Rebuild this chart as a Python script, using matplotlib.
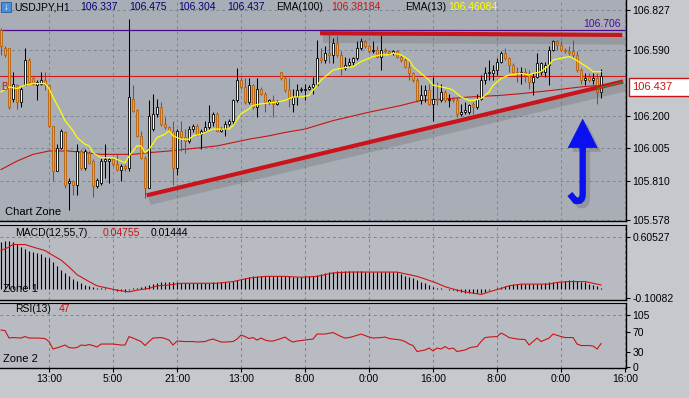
import matplotlib
matplotlib.use("Agg")
import matplotlib.pyplot as plt
import matplotlib.patheffects as pe
from matplotlib.path import Path
from matplotlib.patches import PathPatch, Polygon, Rectangle
import numpy as np

plt.rcParams['font.family'] = ['Liberation Sans', 'DejaVu Sans']

# ---------------- DATA ----------------
symbol = "USDJPY,H1"
ohlc_header = ["106.337", "106.475", "106.304", "106.437"]
ema100_label, ema100_value = "EMA(100)", "106.38184"
ema13_label, ema13_value = "EMA(13)", "106.46084"
macd_label, macd_sig_txt, macd_main_txt = "MACD(12,55,7)", "0.04755", "0.01444"
rsi_label, rsi_value_txt = "RSI(13)", "47"

opens = [106.71,106.60,106.60,106.30,106.38,106.28,106.38,106.53,106.42,106.38,
         106.39,106.41,106.38,106.14,105.87,106.01,106.10,105.80,105.81,105.79,
         105.99,105.89,105.98,105.93,105.78,105.80,105.93,105.93,105.94,105.91,
         105.88,105.90,105.89,106.30,106.23,106.08,105.95,105.77,106.12,106.21,
         106.25,106.15,106.13,106.11,105.89,106.11,106.07,106.05,106.12,106.14,
         106.09,106.11,106.13,106.16,106.21,106.11,106.12,106.15,106.17,106.29,
         106.41,106.37,106.28,106.38,106.25,106.36,106.33,106.28,106.29,106.27,
         106.46,106.42,106.35,106.27,106.31,106.35,106.35,106.36,106.37,106.38,
         106.54,106.53,106.57,106.56,106.63,106.56,106.48,106.50,106.52,106.54,
         106.60,106.64,106.61,106.58,106.59,106.55,106.59,106.58,106.57,106.58,
         106.55,106.53,106.49,106.45,106.41,106.29,106.32,106.35,106.27,106.30,
         106.29,106.34,106.29,106.30,106.29,106.21,106.22,106.22,106.27,106.25,
         106.30,106.41,106.45,106.45,106.47,106.52,106.57,106.54,106.50,106.46,
         106.45,106.46,106.44,106.40,106.43,106.46,106.46,106.50,106.59,106.64,
         106.62,106.59,106.58,106.58,106.56,106.47,106.41,106.43,106.41,106.42,
         106.337]
highs = [106.72,106.61,106.60,106.46,106.39,106.37,106.60,106.54,106.43,106.41,
         106.46,106.46,106.39,106.14,106.03,106.12,106.11,105.83,105.82,106.03,
         106.00,106.00,105.99,105.94,105.83,105.95,106.03,105.95,105.95,105.97,
         105.91,105.91,106.77,106.38,106.24,106.11,105.96,106.29,106.33,106.30,
         106.28,106.19,106.14,106.17,106.12,106.17,106.12,106.14,106.15,106.15,
         106.12,106.17,106.26,106.22,106.22,106.13,106.17,106.18,106.30,106.48,
         106.43,106.42,106.42,106.39,106.42,106.37,106.34,106.30,106.32,106.29,
         106.46,106.43,106.42,106.36,106.39,106.37,106.39,106.38,106.43,106.65,
         106.60,106.61,106.69,106.66,106.67,106.58,106.55,106.54,106.55,106.64,
         106.66,106.65,106.62,106.64,106.61,106.68,106.60,106.59,106.59,106.59,
         106.56,106.54,106.53,106.46,106.42,106.38,106.38,106.39,106.43,106.40,
         106.39,106.35,106.33,106.31,106.31,106.27,106.28,106.27,106.28,106.33,
         106.44,106.49,106.53,106.50,106.54,106.58,106.60,106.55,106.51,106.49,
         106.49,106.48,106.47,106.45,106.57,106.52,106.52,106.61,106.65,106.65,
         106.64,106.60,106.61,106.65,106.58,106.48,106.45,106.45,106.45,106.45,
         106.475]
lows = [106.56,106.55,106.24,106.28,106.24,106.25,106.38,106.39,106.38,106.29,
        106.38,106.35,106.13,105.81,105.87,106.00,105.77,105.64,105.73,105.73,
        105.88,105.88,105.91,105.72,105.77,105.79,105.83,105.80,105.90,105.87,
        105.81,105.87,105.87,106.22,106.07,105.94,105.71,105.77,106.11,106.19,
        106.14,106.12,106.10,105.79,105.85,105.99,105.98,106.04,106.10,106.08,
        106.00,106.10,106.12,106.14,106.10,106.10,106.08,106.14,106.15,106.28,
        106.36,106.27,106.27,106.24,106.19,106.32,106.22,106.27,106.19,106.26,
        106.41,106.34,106.25,106.22,106.26,106.34,106.29,106.35,106.33,106.38,
        106.51,106.51,106.51,106.51,106.55,106.44,106.47,106.49,106.50,106.53,
        106.59,106.60,106.57,106.57,106.54,106.47,106.57,106.56,106.56,106.54,
        106.52,106.48,106.41,106.40,106.28,106.27,106.28,106.26,106.17,106.26,
        106.28,106.28,106.25,106.28,106.19,106.20,106.21,106.21,106.21,106.24,
        106.29,106.39,106.41,106.41,106.44,106.51,106.53,106.46,106.45,106.40,
        106.39,106.40,106.36,106.32,106.42,106.44,106.43,106.38,106.58,106.59,
        106.58,106.57,106.56,106.54,106.46,106.39,106.38,106.40,106.39,106.27,
        106.304]
closes = [106.61,106.56,106.25,106.39,106.28,106.36,106.53,106.40,106.39,106.40,
          106.41,106.38,106.14,105.87,106.01,106.11,105.79,105.81,105.79,105.99,
          105.89,105.99,105.92,105.78,105.82,105.93,105.94,105.94,105.91,105.88,
          105.90,105.89,106.31,106.23,106.08,105.95,105.77,106.20,106.21,106.25,
          106.15,106.13,106.11,105.89,106.11,106.07,106.05,106.12,106.14,106.09,
          106.11,106.13,106.16,106.21,106.11,106.12,106.15,106.17,106.29,106.41,
          106.37,106.28,106.38,106.25,106.36,106.33,106.28,106.29,106.27,106.28,
          106.42,106.35,106.30,106.31,106.35,106.36,106.36,106.37,106.39,106.54,
          106.53,106.57,106.56,106.63,106.56,106.48,106.50,106.52,106.54,106.60,
          106.64,106.61,106.58,106.59,106.55,106.59,106.58,106.57,106.58,106.55,
          106.53,106.49,106.45,106.41,106.29,106.32,106.35,106.27,106.30,106.29,
          106.34,106.29,106.30,106.29,106.21,106.22,106.23,106.26,106.25,106.30,
          106.41,106.45,106.46,106.47,106.52,106.57,106.54,106.50,106.46,106.45,
          106.46,106.44,106.40,106.43,106.51,106.51,106.50,106.59,106.64,106.62,
          106.59,106.58,106.57,106.56,106.47,106.41,106.42,106.41,106.42,106.34,
          106.437]

ema100_bar = [0,4,8,12,17,21,25,29,33,37,42,46,50,54,58,62,67,71,76,83,92,100,105,112,117,125,130,138,145,150]
ema100_val = [105.88,105.93,105.97,105.99,105.99,105.98,105.97,105.97,105.97,105.98,105.99,106.00,106.01,106.02,
              106.04,106.06,106.08,106.10,106.12,106.17,106.22,106.26,106.29,106.30,106.31,106.32,106.33,106.35,106.37,106.38]

ema13_bar = [0,2,4,6,8,11,12,13,15,16,18,19,21,22,23,25,28,29,31,32,34,35,36,37,39,41,42,43,45,47,48,50,52,53,57,58,
             60,62,63,65,69,71,73,75,77,78,80,82,83,85,88,90,92,93,95,97,98,100,102,103,105,107,108,110,112,113,115,
             117,118,120,122,123,125,127,130,132,133,135,137,138,140,142,143,145,147,148,150]
ema13_val = [106.34,106.37,106.36,106.38,106.39,106.39,106.36,106.31,106.22,106.17,106.11,106.07,106.03,106.02,105.98,
             105.95,105.95,105.94,105.92,105.96,106.02,106.02,105.98,106.00,106.07,106.09,106.11,106.08,106.06,106.06,
             106.08,106.09,106.11,106.12,106.12,106.14,106.21,106.24,106.26,106.27,106.28,106.29,106.31,106.31,106.32,
             106.35,106.41,106.45,106.47,106.48,106.49,106.52,106.54,106.55,106.56,106.56,106.57,106.56,106.53,106.49,
             106.45,106.41,106.38,106.37,106.36,106.35,106.31,106.29,106.29,106.30,106.34,106.38,106.42,106.44,106.45,
             106.44,106.45,106.46,106.50,106.53,106.54,106.55,106.54,106.51,106.48,106.46,106.46]

macd_hist = [0.55,0.56,0.56,0.55,0.53,0.49,0.47,0.45,0.43,0.42,0.41,0.38,0.36,0.32,0.27,0.22,0.19,0.15,0.12,0.10,
             0.07,0.05,0.04,0.03,0.02,0.01,0.01,0.00,-0.01,-0.02,-0.02,-0.03,-0.01,0.01,0.02,0.03,0.04,0.05,0.06,0.07,
             0.08,0.09,0.09,0.08,0.08,0.07,0.07,0.07,0.07,0.07,0.07,0.07,0.07,0.08,0.08,0.08,0.08,0.09,0.10,0.11,
             0.12,0.13,0.14,0.15,0.16,0.16,0.16,0.16,0.15,0.15,0.15,0.15,0.15,0.14,0.14,0.14,0.15,0.15,0.16,0.17,
             0.18,0.19,0.20,0.20,0.21,0.21,0.21,0.21,0.21,0.21,0.21,0.20,0.20,0.20,0.20,0.20,0.20,0.20,0.20,0.20,
             0.18,0.16,0.14,0.13,0.11,0.09,0.07,0.05,0.03,0.02,0.01,0.00,-0.01,-0.01,-0.02,-0.03,-0.04,-0.04,-0.04,-0.04,
             -0.04,-0.03,-0.01,0.00,0.01,0.03,0.04,0.05,0.06,0.06,0.06,0.06,0.06,0.06,0.06,0.06,0.07,0.08,0.08,0.09,
             0.09,0.10,0.11,0.11,0.10,0.09,0.08,0.06,0.05,0.04,0.01]
signal_bar = [0,2,3,6,8,11,12,15,17,19,22,24,27,29,32,34,37,39,42,45,50,54,58,62,66,71,75,79,83,87,91,95,99,101,104,
              106,109,111,114,116,120,122,125,127,130,134,137,139,142,146,148,150]
signal_val = [0.45,0.49,0.52,0.52,0.49,0.45,0.42,0.34,0.26,0.17,0.09,0.04,0.01,-0.01,-0.03,-0.01,0.01,0.04,0.05,0.07,
              0.07,0.07,0.09,0.13,0.15,0.15,0.14,0.15,0.19,0.20,0.20,0.20,0.20,0.18,0.15,0.12,0.07,0.03,-0.01,-0.03,
              -0.06,-0.03,0.01,0.04,0.06,0.06,0.06,0.08,0.09,0.09,0.07,0.05]

rsi_bar = [0,1,2,3,5,6,7,9,11,12,13,15,16,17,18,19,20,21,22,23,24,25,27,28,30,31,32,33,35,36,37,38,40,41,42,43,44,46,
           48,49,51,52,53,55,56,58,59,60,61,62,63,64,65,66,67,68,70,71,72,73,74,76,78,79,81,83,85,86,87,88,90,91,92,
           93,95,96,97,100,101,102,103,104,106,107,108,109,110,111,112,113,114,116,117,118,119,120,121,122,124,125,
           126,127,129,131,132,133,134,135,137,138,140,141,143,144,145,147,148,149,150]
rsi_val = [74,73,58,59,58,61,58,58,57,51,36,41,44,39,38,39,44,43,45,43,40,46,46,46,44,44,61,58,51,43,51,58,59,57,54,44,
           52,51,51,50,51,54,56,50,50,51,56,64,61,57,59,54,58,54,52,52,57,60,54,50,52,54,56,66,66,69,61,58,59,61,66,
           63,60,58,59,60,57,54,51,46,43,31,34,38,32,38,36,41,36,38,31,34,38,40,41,51,59,60,61,68,64,59,56,55,44,51,
           58,51,58,66,61,59,59,46,43,43,42,36,47]

price_line, price_line_txt = 106.437, "106.437"
level_line, level_line_txt = 106.706, "106.706"
resistance = ([79.75, 155.3], [106.688, 106.678])
support = ([36.4, 155.5], [105.727, 106.402])

main_ticks = [106.827, 106.590, 106.200, 106.005, 105.810, 105.578]
macd_ticks = [0.60527, -0.10082]
rsi_ticks = [105, 70, 30, 0]
time_pos = [12, 28, 44, 60, 76, 92, 108, 124, 140, 156]
time_lbl = ["13:00", "5:00", "21:00", "13:00", "8:00", "0:00", "16:00", "8:00", "0:00", "16:00"]

# ---------------- FIGURE ----------------
W, H = 689, 398
FS = 7.5
fig = plt.figure(figsize=(W / 100, H / 100), dpi=100, facecolor="#c5c8cd")


def ax_px(x0, y0, x1, y1):
    return fig.add_axes([x0 / W, 1 - y1 / H, (x1 - x0) / W, (y1 - y0) / H])


def fx(x):
    return x / W


def fy(y):
    return 1 - y / H


ax = ax_px(0, 0, 625.5, 221)
axm = ax_px(0, 224.5, 625.5, 299.5)
axr = ax_px(0, 302.5, 625.5, 367.5)

grid_kw = dict(color="#7b8695", lw=0.7, ls=(0, (3, 3)))
for a, bg in ((ax, "#a9aeb6"), (axm, "#b8bcc2"), (axr, "#b8bcc2")):
    a.set_facecolor(bg)
    a.set_xlim(-0.25, 156.1)
    a.set_xticks(time_pos)
    a.xaxis.grid(True, **grid_kw)
    a.set_axisbelow(True)
    for s in ("left", "top"):
        a.spines[s].set_visible(False)
    for s in ("right", "bottom"):
        a.spines[s].set_color("black")
        a.spines[s].set_linewidth(1.0)
    a.yaxis.tick_right()
    a.tick_params(axis="y", length=3, width=0.8, pad=2, labelsize=FS, colors="black")
axm.spines["top"].set_visible(True)
axr.spines["top"].set_visible(True)
axm.spines["top"].set_color("black")
axr.spines["top"].set_color("black")
ax.tick_params(axis="x", length=0, labelbottom=False)
axm.tick_params(axis="x", length=0, labelbottom=False)
axr.tick_params(axis="x", length=3, width=0.8, pad=2, labelsize=FS, colors="black")
axr.set_xticklabels(time_lbl)

# ---- main chart ----
o = np.array(opens); h = np.array(highs); l = np.array(lows); c = np.array(closes)
x = np.arange(len(c))
up = c >= o
ax.set_ylim(105.575, 106.885)
ax.set_yticks(main_ticks)
ax.set_yticklabels(["106.827", "106.590", "106.200", "106.005", "105.810", "105.578"])
ax.yaxis.grid(True, **grid_kw)

ax.axhline(level_line, color="#4a0a8a", lw=0.9, zorder=2)
ax.axhline(price_line, color="#d41818", lw=0.8, zorder=2)
ax.plot(ema100_bar, ema100_val, color="#c81414", lw=0.8, zorder=2)

wick_col = np.where(up, "#000000", "#9a4a12")
ax.vlines(x, l, h, colors=wick_col, lw=0.75, zorder=3)
bottom = np.minimum(o, c)
height = np.maximum(np.abs(c - o), 0.004)
ax.bar(x, height, bottom=bottom, width=0.62,
       color=np.where(up, "#ffffff", "#f5a418"),
       edgecolor=np.where(up, "#000000", "#b8600e"), linewidth=0.6, zorder=4)
ax.plot(ema13_bar, ema13_val, color="#ffff00", lw=0.9, zorder=5)

shadow = [pe.SimpleLineShadow(offset=(2, -4), shadow_color="#4a4a4a", alpha=0.2, linewidth=6), pe.Normal()]
ax.plot(resistance[0], resistance[1], color="#c8141a", lw=3.0, solid_capstyle="butt", zorder=6, path_effects=shadow)
ax.plot(support[0], support[1], color="#c8141a", lw=3.0, solid_capstyle="butt", zorder=6, path_effects=shadow)
ax.plot([149, 155.5], [106.36, 106.40], color="#3c8a3c", lw=0.8, zorder=7)

# blue arrow (annotation)
head = Polygon([[141.8, 106.010], [149.0, 106.010], [145.4, 106.178]], closed=True,
               facecolor="#0a10f0", edgecolor="#0a10f0", lw=0.5, zorder=8,
               path_effects=[pe.withSimplePatchShadow(offset=(3, -3), shadow_rgbFace="#404040", alpha=0.22)])
ax.add_patch(head)
shaft = Path([(145.4, 106.015), (145.4, 105.735), (145.4, 105.685), (143.6, 105.695), (142.2, 105.735)],
             [Path.MOVETO, Path.LINETO, Path.CURVE3, Path.CURVE3, Path.LINETO])
ax.add_patch(PathPatch(shaft, facecolor="none", edgecolor="#0a10f0", lw=4.6, capstyle="butt", zorder=8,
                       path_effects=[pe.SimpleLineShadow(offset=(3, -3), shadow_color="#404040", alpha=0.22), pe.Normal()]))

ax.text(1, 105.63, "Chart Zone", fontsize=8, color="black", ha="left", va="center", zorder=9)

# ---- MACD ----
axm.set_ylim(-0.1185, 0.7524)
axm.set_yticks(macd_ticks)
axm.set_yticklabels(["0.60527", "-0.10082"])
axm.axhline(macd_ticks[0], **grid_kw)
axm.vlines(np.arange(len(macd_hist)), 0, macd_hist, colors="black", lw=0.8, zorder=3)
axm.plot(signal_bar, signal_val, color="#d01414", lw=0.8, zorder=4)
axm.text(0.5, 0.0, "Zone 1", fontsize=8, color="black", ha="left", va="center", zorder=5)

# ---- RSI ----
axr.set_ylim(-1, 129.2)
axr.set_yticks(rsi_ticks)
axr.set_yticklabels(["105", "70", "30", "0"])
axr.axhline(105, **grid_kw)
axr.plot(rsi_bar, rsi_val, color="#cc1414", lw=0.8, zorder=3)
axr.text(0.5, 17, "Zone 2", fontsize=8, color="black", ha="left", va="center", zorder=5)

# ---- header & labels ----
fig.patches.append(Rectangle((fx(1), fy(12)), 10 / W, 10 / H, transform=fig.transFigure,
                             facecolor="#4a90d8", edgecolor="#2a5a9a", lw=0.6))
fig.text(fx(6), fy(7.3), "\u2193", fontsize=7, color="white", ha="center", va="center", weight="bold")
hy = fy(7.5)
fig.text(fx(14), hy, symbol, fontsize=FS, color="black", va="center")
for xp, t in zip([80, 129, 178, 227], ohlc_header):
    fig.text(fx(xp), hy, t, fontsize=FS, color="#00007a", va="center")
fig.text(fx(276), hy, ema100_label, fontsize=FS, color="black", va="center")
fig.text(fx(331), hy, ema100_value, fontsize=FS, color="#c81414", va="center")
fig.text(fx(405), hy, ema13_label, fontsize=FS, color="black", va="center")
fig.text(fx(448), hy, ema13_value, fontsize=FS, color="#ffff00", va="center")

fig.text(fx(15), fy(233), macd_label, fontsize=FS, color="black", va="center")
fig.text(fx(103), fy(233), macd_sig_txt, fontsize=FS, color="#c81414", va="center")
fig.text(fx(151), fy(233), macd_main_txt, fontsize=FS, color="black", va="center")
fig.text(fx(15), fy(309), rsi_label, fontsize=FS, color="black", va="center")
fig.text(fx(59), fy(309), rsi_value_txt, fontsize=FS, color="#c81414", va="center")

fig.text(fx(621), fy(24), level_line_txt, fontsize=FS, color="#4a0a9a", ha="right", va="center")
fig.text(fx(1), fy(87), "B", fontsize=7, color="#c81414", ha="left", va="center")

fig.patches.append(Rectangle((fx(629), fy(95.5)), 62 / W, 17.5 / H, transform=fig.transFigure,
                             facecolor="white", edgecolor="#c81414", lw=1.0))
fig.text(fx(632), fy(87), price_line_txt, fontsize=8, color="#c81414", va="center")

fig.savefig("out.png", dpi=100, facecolor=fig.get_facecolor())
